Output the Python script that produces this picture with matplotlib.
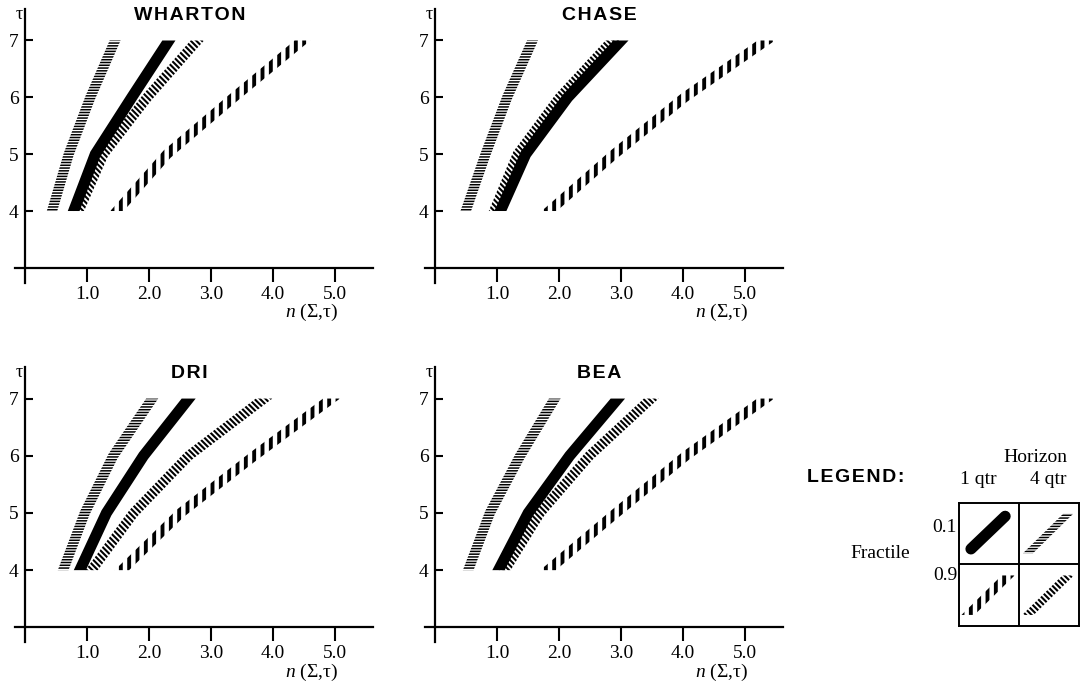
"""Fractile curves n(Sigma, tau) for four forecasters, with hatched-band legend."""
import numpy as np
import matplotlib
matplotlib.use("Agg")
import matplotlib.pyplot as plt
from matplotlib.patches import Polygon

plt.rcParams["font.family"] = ["Liberation Serif", "DejaVu Serif"]
plt.rcParams["mathtext.fontset"] = "custom"
plt.rcParams["mathtext.rm"] = "Liberation Serif"
plt.rcParams["mathtext.it"] = "Liberation Serif:italic"

TAU = [4, 5, 6, 7]
PANELS = ["WHARTON", "CHASE", "DRI", "BEA"]
X_TICKS = [1, 2, 3, 4, 5]
X_TICK_LABELS = ["1.0", "2.0", "3.0", "4.0", "5.0"]
Y_TICKS = [4, 5, 6, 7]

# n(Sigma, tau) at tau = 4..7
# q1 = 1 qtr horizon, q4 = 4 qtr horizon; 01 / 09 = fractile 0.1 / 0.9
wharton_q1_01 = [0.78, 1.13, 1.72, 2.32]
wharton_q4_01 = [0.43, 0.70, 1.05, 1.45]
wharton_q1_09 = [1.48, 2.29, 3.37, 4.48]
wharton_q4_09 = [0.86, 1.26, 1.97, 2.78]

chase_q1_01 = [1.05, 1.46, 2.14, 3.00]
chase_q4_01 = [0.49, 0.81, 1.16, 1.57]
chase_q1_09 = [1.84, 2.89, 4.03, 5.35]
chase_q4_09 = [0.95, 1.33, 2.01, 2.86]

dri_q1_01 = [0.88, 1.31, 1.91, 2.64]
dri_q4_01 = [0.61, 0.96, 1.42, 2.05]
dri_q1_09 = [1.56, 2.51, 3.70, 4.95]
dri_q4_09 = [1.07, 1.75, 2.64, 3.86]

bea_q1_01 = [1.02, 1.50, 2.17, 2.95]
bea_q4_01 = [0.53, 0.88, 1.37, 1.93]
bea_q1_09 = [1.82, 2.92, 4.05, 5.34]
bea_q4_09 = [1.12, 1.69, 2.49, 3.49]

SERIES = {
    "WHARTON": (wharton_q1_01, wharton_q4_01, wharton_q1_09, wharton_q4_09),
    "CHASE": (chase_q1_01, chase_q4_01, chase_q1_09, chase_q4_09),
    "DRI": (dri_q1_01, dri_q4_01, dri_q1_09, dri_q4_09),
    "BEA": (bea_q1_01, bea_q4_01, bea_q1_09, bea_q4_09),
}

# band look per series: (hatch, hatch linewidth); None = solid black
STYLES = [None, ("-" * 6, 1.1), ("|" * 2, 2.8), ("\\" * 6, 1.5)]
BAND_W = [11, 10, 10, 10]


def add_band(ax, xs, ys, width, style):
    """Thick polyline drawn as a polygon (flat horizontal ends) so it can carry a hatch."""
    pts = ax.transData.transform(np.column_stack([xs, ys]))
    d = np.diff(pts, axis=0)
    d = d / np.hypot(d[:, 0], d[:, 1])[:, None]
    nrm = np.column_stack([-d[:, 1], d[:, 0]])
    off = np.zeros_like(pts)
    off[0] = [-1 / d[0, 1], 0]
    off[-1] = [-1 / d[-1, 1], 0]
    for i in range(1, len(pts) - 1):
        m = nrm[i - 1] + nrm[i]
        off[i] = m / np.dot(m, nrm[i - 1])
    half = width / 2
    outline = np.vstack([pts + off * half, (pts - off * half)[::-1]])
    verts = ax.transData.inverted().transform(outline)

    if style is None:
        poly = Polygon(verts, closed=True, facecolor="black", edgecolor="none", lw=0)
    else:
        hatch, hlw = style
        with plt.rc_context({"hatch.linewidth": hlw, "hatch.color": "black"}):
            poly = Polygon(verts, closed=True, facecolor="none", edgecolor="black",
                           lw=0, hatch=hatch)
        if hasattr(poly, "set_hatch_linewidth"):
            poly.set_hatch_linewidth(hlw)
    ax.add_patch(poly)


def spaced(s):
    # loose letter spacing like the original headings
    return "\u200a".join(s)


fig = plt.figure(figsize=(10.81, 6.89), dpi=100)

rects = [
    [0.0138, 0.5898, 0.3312, 0.3968],
    [0.3931, 0.5898, 0.3312, 0.3968],
    [0.0138, 0.0679, 0.3312, 0.3993],
    [0.3931, 0.0679, 0.3312, 0.3993],
]

for name, rect in zip(PANELS, rects):
    ax = fig.add_axes(rect)
    ax.set_xlim(-0.17, 5.62)
    ax.set_ylim(2.74, 7.55)
    for side in ["top", "right"]:
        ax.spines[side].set_visible(False)
    ax.spines["left"].set_position(("data", 0))
    ax.spines["bottom"].set_position(("data", 3))
    for side in ["left", "bottom"]:
        ax.spines[side].set_linewidth(1.6)

    ax.set_xticks(X_TICKS)
    ax.set_xticklabels(X_TICK_LABELS)
    ax.set_yticks(Y_TICKS)
    ax.tick_params(axis="x", direction="out", length=10, width=1.5, pad=3, labelsize=14)
    ax.tick_params(axis="y", direction="in", length=6, width=1.5, pad=5, labelsize=14)

    for vals, style, w in zip(SERIES[name], STYLES, BAND_W):
        add_band(ax, vals, TAU, w, style)

    ax.text(2.65, 7.44, spaced(name), family=["Liberation Sans", "DejaVu Sans"],
            fontweight="bold", fontsize=14, ha="center", va="center")
    ax.text(-0.1, 7.45, "τ", fontsize=13, ha="center", va="center")
    ax.text(4.63, 2.21, r"$n$ (Σ,τ)", fontsize=14, ha="center", va="center", clip_on=False)

# legend grid: columns = horizon, rows = fractile
lax = fig.add_axes([0.8871, 0.0914, 0.1110, 0.1790])
lax.set_xlim(0, 2)
lax.set_ylim(0, 2)
lax.set_xticks([])
lax.set_yticks([])
for sp in lax.spines.values():
    sp.set_linewidth(1.4)
lax.axvline(1, color="black", lw=1.4)
lax.axhline(1, color="black", lw=1.4)

# cell (col, row) for each series style, row 1 = fractile 0.1 (top)
cells = [(0, 1), (1, 1), (0, 0), (1, 0)]
widths = [11, 7, 9, 8]
for (col, row), style, w in zip(cells, STYLES, widths):
    if style is None:
        lax.plot([col + 0.2, col + 0.77], [row + 0.25, row + 0.78], color="black",
                 lw=8, solid_capstyle="round")
    else:
        add_band(lax, [col + 0.15, col + 0.82], [row + 0.18, row + 0.82], w, style)

W, H = 1081, 689
fig.text(856 / W, 1 - 477 / H, spaced("LEGEND:"), family=["Liberation Sans", "DejaVu Sans"],
         fontweight="bold", fontsize=14, ha="center", va="center")
fig.text(1035 / W, 1 - 458 / H, "Horizon", fontsize=14, ha="center", va="center")
fig.text(978 / W, 1 - 479 / H, "1 qtr", fontsize=14, ha="center", va="center")
fig.text(1048 / W, 1 - 479 / H, "4 qtr", fontsize=14, ha="center", va="center")
fig.text(957 / W, 1 - 527 / H, "0.1", fontsize=14, ha="right", va="center")
fig.text(957 / W, 1 - 575 / H, "0.9", fontsize=14, ha="right", va="center")
fig.text(880 / W, 1 - 553 / H, "Fractile", fontsize=14, ha="center", va="center")

fig.savefig("out.png", dpi=100)
